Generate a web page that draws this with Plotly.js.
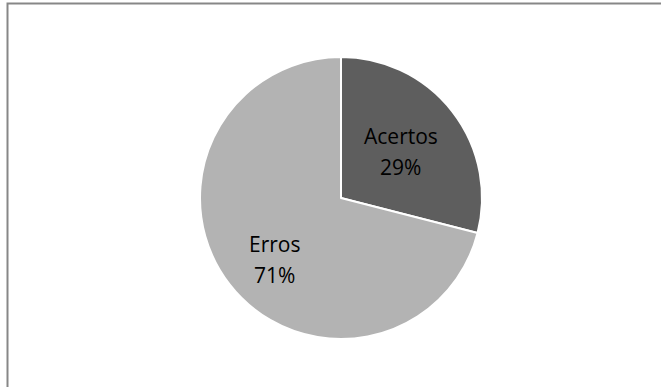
<!DOCTYPE html>
<html>
<head>
<meta charset="utf-8">
<script src="https://cdn.plot.ly/plotly-3.0.1.min.js"></script>
<style>html,body{margin:0;padding:0;background:#fff;}#chart{width:661px;height:387px;}</style>
</head>
<body>
<div id="chart"></div>
<script>
var categories = ["Acertos", "Erros"];
var values = [29, 71];
var colors = ["#5e5e5e", "#b3b3b3"];

var W = 661, H = 387;
var cx = 341, cy = 198, r = 141;
// label placement style (radial fraction of radius, angle nudge in degrees)
var labelRadius = [0.536, 0.645];
var labelNudge = [0, -5];
var lineGap = 31;
var font = {family: "Open Sans, Noto Sans, sans-serif", size: 21, color: "#000000"};

var trace = {
  type: "pie",
  labels: categories,
  values: values,
  sort: false,
  direction: "clockwise",
  rotation: 0,
  marker: {colors: colors, line: {color: "#ffffff", width: 2}},
  textinfo: "none",
  hoverinfo: "none",
  domain: {x: [(cx - r) / W, (cx + r) / W], y: [1 - (cy + r) / H, 1 - (cy - r) / H]}
};

var total = values.reduce(function (a, b) { return a + b; }, 0);
var annotations = [];
var cum = 0;
values.forEach(function (v, i) {
  var mid = (cum + v / 2) / total * 360 + labelNudge[i];
  cum += v;
  var a = mid * Math.PI / 180;
  var d = labelRadius[i] * r;
  var px = cx + d * Math.sin(a);
  var py = cy - d * Math.cos(a);
  var pct = Math.round(v / total * 100) + "%";
  [[categories[i], py - lineGap / 2], [pct, py + lineGap / 2]].forEach(function (t) {
    annotations.push({
      xref: "paper", yref: "paper", x: px / W, y: 1 - t[1] / H,
      xanchor: "center", yanchor: "middle", showarrow: false,
      text: t[0], font: font
    });
  });
});

var layout = {
  width: W, height: H,
  margin: {l: 0, r: 0, t: 0, b: 0},
  paper_bgcolor: "#ffffff",
  showlegend: false,
  annotations: annotations,
  shapes: [{
    type: "rect", xref: "paper", yref: "paper",
    x0: 7.5 / W, x1: 1.05, y0: -0.05, y1: 1 - 3.5 / H,
    line: {color: "#878787", width: 2}, fillcolor: "rgba(0,0,0,0)", layer: "below"
  }]
};

Plotly.newPlot("chart", [trace], layout, {displayModeBar: false, staticPlot: true});
</script>
</body>
</html>
